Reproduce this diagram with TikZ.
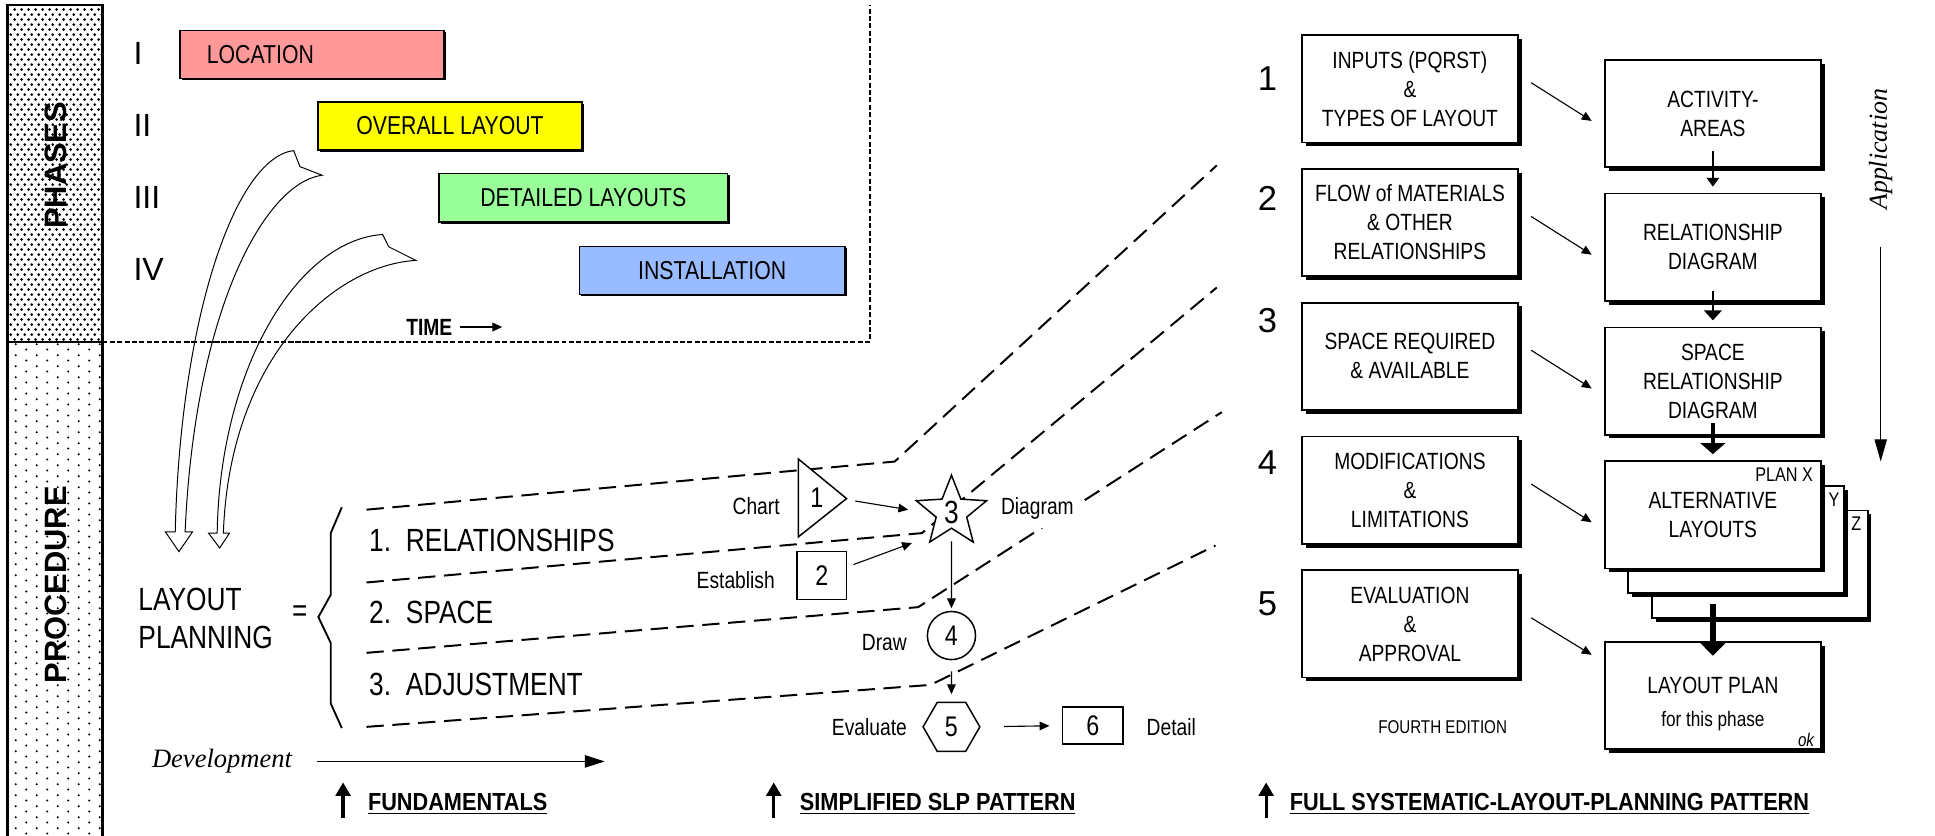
\documentclass[tikz,border=0pt]{standalone}
\usepackage{fontspec}
\setmainfont[FakeStretch=0.82]{Liberation Sans}
\newfontfamily\widefont{Liberation Sans}
\newfontfamily\headfont[FakeStretch=0.88]{Liberation Sans}
\newfontfamily\timesfont{Liberation Serif}
\usetikzlibrary{positioning}
\usetikzlibrary{arrows.meta}
\usetikzlibrary{shapes.geometric, shadows, patterns}

\newcommand{\fsz}[2]{\fontsize{#1}{#2}\selectfont}

\definecolor{locred}{RGB}{255,153,153}
\definecolor{ovyellow}{RGB}{255,255,0}
\definecolor{detgreen}{RGB}{153,255,153}
\definecolor{instblue}{RGB}{153,187,255}

\pgfdeclarepatternformonly{densedots}{\pgfpointorigin}{\pgfpoint{5.4pt}{8pt}}{\pgfpoint{5.4pt}{8pt}}{%
  \pgfpathcircle{\pgfpoint{1.35pt}{2pt}}{1.25pt}%
  \pgfpathcircle{\pgfpoint{4.05pt}{6pt}}{1.25pt}%
  \pgfusepath{fill}}
\pgfdeclarepatternformonly{sparsedots}{\pgfpointorigin}{\pgfpoint{17pt}{8.6pt}}{\pgfpoint{17pt}{8.6pt}}{%
  \pgfpathcircle{\pgfpoint{4.25pt}{2.15pt}}{0.95pt}%
  \pgfpathcircle{\pgfpoint{12.75pt}{6.45pt}}{0.95pt}%
  \pgfusepath{fill}}

\begin{document}
\begin{tikzpicture}[x=1pt, y=-1pt]
	\tikzstyle{bar} = [draw, line width=1.3pt, minimum height=39pt, inner sep=0pt, anchor=north west, font=\fsz{21}{24}, drop shadow={shadow xshift=1.5pt, shadow yshift=-1.5pt, opacity=1, fill=black}]
	\tikzstyle{box} = [draw, fill=white, line width=1.4pt, minimum width=175pt, minimum height=87pt, inner sep=0pt, align=center, font=\fsz{19}{23.5}, drop shadow={shadow xshift=3pt, shadow yshift=-3pt, opacity=1, fill=black}]
	\tikzstyle{shp} = [draw, fill=white, line width=1.2pt, inner sep=0pt, font=\fsz{23}{26}]
	\tikzstyle{lbl} = [inner sep=0pt, font=\fsz{19}{22}]
	\tikzstyle{big} = [inner sep=0pt, font=\fsz{26}{31}]
	\tikzstyle{numeral} = [inner sep=0pt, anchor=west, font=\widefont\fsz{26}{30}]
	\tikzstyle{heading} = [inner sep=0pt, anchor=base west, font=\headfont\bfseries\fsz{20}{24}]
	\tikzstyle{slp} = [draw, line width=1.6pt, dash pattern=on 14pt off 7pt]
	\tikzstyle{line} = [draw, line width=0.9pt, -{Triangle[length=8pt, width=7pt]}]
	\tikzstyle{uparrow} = [draw, line width=2.6pt, -{Triangle[length=11pt, width=12pt]}]

	\useasboundingbox (0,0) rectangle (1568,677);

	\pattern[pattern=densedots] (6,4) rectangle (83,277);
	\pattern[pattern=sparsedots] (6,277) rectangle (83,680);
	\draw[line width=1.8pt] (6,680) -- (6,4) -- (83,4) -- (83,680);
	\draw[line width=1.6pt] (6,277) -- (83,277);
	\node[rotate=90, inner sep=0pt, font=\widefont\bfseries\fsz{25}{28}] (phases) at (45,134) {PHASES};
	\node[rotate=90, inner sep=0pt, font=\widefont\bfseries\fsz{25}{28}] (procedure) at (45,474) {PROCEDURE};
	\draw[line width=1.2pt, dash pattern=on 4pt off 2pt] (83,277) -- (705,277) -- (705,4);

	\node[numeral] (ph1) at (108,43.5) {I};
	\node[numeral] (ph2) at (108,102) {II};
	\node[numeral] (ph3) at (108,160) {III};
	\node[numeral] (ph4) at (108,218.5) {IV};
	\node[bar, fill=locred, text width=170pt, align=left, inner xsep=22pt] (loc) at (145,24) {LOCATION};
	\node[bar, fill=ovyellow, minimum width=214pt] (overall) at (257,82) {OVERALL LAYOUT};
	\node[bar, fill=detgreen, minimum width=234pt] (detailed) at (355,140) {DETAILED LAYOUTS};
	\node[bar, fill=instblue, minimum width=215pt] (install) at (469,199) {INSTALLATION};
	\node[anchor=west, inner sep=0pt, font=\bfseries\fsz{19}{22}] (time) at (329,265) {TIME};
	\coordinate (timeend) at (407,265);
	\path[draw, line width=1.2pt, -{Triangle[length=8pt, width=7pt]}] ([xshift=6pt]time.east) -- (timeend);

	\draw[line width=0.8pt, fill=white] (238,122) -- (243,135) -- (261,142) .. controls (215,148) and (158,250) .. (150,431) -- (156,431) -- (145,447) -- (134,431) -- (142,431) .. controls (146,260) and (190,128) .. (238,122) -- cycle;
	\draw[line width=0.8pt, fill=white] (310,190) -- (315,200) -- (337,211) .. controls (270,215) and (186,290) .. (181,432) -- (186,432) -- (178,444) -- (169,432) -- (176,432) .. controls (178,300) and (240,195) .. (310,190) -- cycle;
	\draw[line width=1.2pt, dash pattern=on 4pt off 2pt] (150,277) -- (250,277);

	\node[big, anchor=west, align=left] (lp) at (112,501) {LAYOUT\\PLANNING};
	\node[big] (eq) at (243,497) {=};
	\draw[line width=1.5pt] (277,411) -- (268,432) -- (268,482) -- (258,500) -- (268,521) -- (268,570) -- (277,590);
	\node[big, anchor=west] (item1) at (299,438) {1.\hspace{12pt}RELATIONSHIPS};
	\node[big, anchor=west] (item2) at (299,496) {2.\hspace{12pt}SPACE};
	\node[big, anchor=west] (item3) at (299,555) {3.\hspace{12pt}ADJUSTMENT};
	\node[anchor=west, inner sep=0pt, font=\timesfont\itshape\fsz{21.5}{24}] (dev) at (123,617) {Development};
	\coordinate (devend) at (490,617);
	\path[draw, line width=1pt, -{Triangle[length=16pt, width=10pt]}] ([xshift=20pt]dev.east) -- (devend);

	\draw[slp] (297,413) -- (725,374) -- (986,134);
	\draw[slp] (297,472) -- (747,432) -- (986,233);
	\draw[slp] (297,529) -- (744,492) -- (990,334);
	\draw[slp] (297,589) -- (754,555) -- (985,442);

	\coordinate (t1tip) at (686,404);
	\draw[shp] (647,372) -- (t1tip) -- (647,435) -- cycle;
	\node[inner sep=0pt, font=\fsz{23}{26}] (n1) at (662,403) {1};
	\node[shp, rectangle, minimum width=40pt, minimum height=39pt] (b2) at (666,466.5) {2};
	\node[shp, star, star points=5, star point ratio=2.3, minimum size=59pt, font=\fsz{26}{28}] (s3) at (771,415) {3};
	\node[shp, circle, minimum size=39pt] (c4) at (771,515) {4};
	\node[shp, regular polygon, regular polygon sides=6, minimum size=46pt] (h5) at (771,589) {5};
	\node[shp, rectangle, minimum width=49pt, minimum height=30pt] (b6) at (885.5,588) {6};

	\node[lbl, anchor=base east] (chart) at (632,417) {Chart};
	\node[lbl, anchor=base east] (establish) at (628,477) {Establish};
	\node[lbl, anchor=base west, fill=white, inner xsep=4pt, inner ysep=5pt, text depth=6pt] (diagram) at (807,417) {Diagram\hspace{10pt}};
	\node[lbl, anchor=base east] (drawlbl) at (735,527) {Draw};
	\node[lbl, anchor=base east] (evaluate) at (735,596) {Evaluate};
	\node[lbl, anchor=base west] (detail) at (929,596) {Detail};

	\path[line] ([xshift=7pt, yshift=-2pt]t1tip) -- ([xshift=-35pt, yshift=2pt]s3.center);
	\path[line] ([xshift=5pt, yshift=9pt]b2.east) -- ([xshift=-32pt, yshift=-25pt]s3.center);
	\path[line, shorten <=10pt, shorten >=2pt] (s3.south) -- (c4.north);
	\path[line, shorten <=9pt, shorten >=6pt] (c4.south) -- (h5.north);
	\path[line, shorten <=19pt, shorten >=10pt] (h5.east) -- (b6.west);

	\node[font=\widefont\fsz{28}{32}, inner sep=0pt] (st1) at (1027,64) {1};
	\node[font=\widefont\fsz{28}{32}, inner sep=0pt] (st2) at (1027,161) {2};
	\node[font=\widefont\fsz{28}{32}, inner sep=0pt] (st3) at (1027,260) {3};
	\node[font=\widefont\fsz{28}{32}, inner sep=0pt] (st4) at (1027,375) {4};
	\node[font=\widefont\fsz{28}{32}, inner sep=0pt] (st5) at (1027,489) {5};

	\node[box] (in1) at (1142.5,72) {INPUTS (PQRST)\\\&\\TYPES OF LAYOUT};
	\node[box, below=20pt of in1] (in2) {FLOW of MATERIALS\\\& OTHER\\RELATIONSHIPS};
	\node[box, below=20pt of in2] (in3) {SPACE REQUIRED\\\& AVAILABLE};
	\node[box, below=20pt of in3] (in4) {MODIFICATIONS\\\&\\LIMITATIONS};
	\node[box, below=20pt of in4] (in5) {EVALUATION\\\&\\APPROVAL};

	\node[box] (areas) at (1388,92) {ACTIVITY-\\AREAS};
	\node[box, below=20pt of areas] (reldiag) {RELATIONSHIP\\DIAGRAM};
	\node[box, below=20pt of reldiag] (spacediag) {SPACE\\RELATIONSHIP\\DIAGRAM};
	\node[box, below=20pt of spacediag, xshift=38pt, yshift=-40pt] (planz) {};
	\node[box, below=20pt of spacediag, xshift=19pt, yshift=-20pt] (plany) {};
	\node[box, below=20pt of spacediag] (alt) {ALTERNATIVE\\LAYOUTS};
	\node[anchor=north east, inner sep=0pt, font=\fsz{16}{18}] (planx) at ([xshift=-7pt, yshift=-6pt]alt.north east) {PLAN X};
	\node[inner sep=0pt, font=\fsz{16}{18}] (ly) at ([xshift=-9pt, yshift=-12pt]plany.north east) {Y};
	\node[inner sep=0pt, font=\fsz{16}{18}] (lz) at ([xshift=-10pt, yshift=-11pt]planz.north east) {Z};
	\node[box, below=58pt of alt] (plan) {};
	\node[anchor=base, inner sep=0pt, font=\fsz{19}{22}] (plantitle) at ([yshift=1.5pt]plan.center) {LAYOUT PLAN};
	\node[anchor=base, inner sep=0pt, font=\fsz{17}{20}] (planphase) at ([yshift=-25.5pt]plan.center) {for this phase};
	\node[anchor=base east, inner sep=0pt, font=\itshape\fsz{15}{18}] (ok) at ([xshift=-6pt, yshift=3pt]plan.south east) {ok};

	\path[draw, line width=1pt, shorten >=5pt, -{Triangle[length=7pt, width=10pt]}] ([yshift=14pt]areas.south) -- (reldiag.north);
	\path[draw, line width=2pt, shorten >=5pt, -{Triangle[length=8pt, width=14pt]}] ([yshift=9pt]reldiag.south) -- (spacediag.north);
	\path[draw, line width=3pt, shorten >=5pt, -{Triangle[length=9pt, width=20pt]}] ([yshift=10pt]spacediag.south) -- (alt.north);
	\path[draw, line width=5pt, -{Triangle[length=11pt, width=21pt]}] ([yshift=-28pt]alt.south) -- ([yshift=-12pt]plan.north);

	\path[line] ([xshift=10pt, yshift=5pt]in1.east) -- ([xshift=-10pt, yshift=-6pt]areas.west);
	\path[line] ([xshift=10pt, yshift=5pt]in2.east) -- ([xshift=-10pt, yshift=-6pt]reldiag.west);
	\path[line] ([xshift=10pt, yshift=5pt]in3.east) -- ([xshift=-10pt, yshift=-6pt]spacediag.west);
	\path[line] ([xshift=10pt, yshift=5pt]in4.east) -- ([xshift=-10pt, yshift=-6pt]alt.west);
	\path[line] ([xshift=10pt, yshift=5pt]in5.east) -- ([xshift=-10pt, yshift=33pt]plan.west);

	\node[inner sep=0pt, font=\fsz{15}{18}] (edition) at (1169,589) {FOURTH EDITION};
	\node[rotate=90, inner sep=0pt, font=\timesfont\itshape\fsz{21}{24}] (appl) at (1524,121) {Application};
	\coordinate (appltop) at (1524,200);
	\coordinate (applend) at (1524,374);
	\path[draw, line width=0.9pt, -{Triangle[length=18pt, width=10pt]}] (appltop) -- (applend);

	\node[heading] (fund) at (298,657) {\underline{FUNDAMENTALS}};
	\node[heading] (simple) at (648,657) {\underline{SIMPLIFIED SLP PATTERN}};
	\node[heading] (full) at (1045,657) {\underline{FULL SYSTEMATIC-LAYOUT-PLANNING PATTERN}};
	\coordinate (fundtail) at (278,663);
	\coordinate (fundtip) at (278,634);
	\coordinate (simpletail) at (627,663);
	\coordinate (simpletip) at (627,634);
	\coordinate (fulltail) at (1026,663);
	\coordinate (fulltip) at (1026,634);
	\path[uparrow] (fundtail) -- (fundtip);
	\path[uparrow] (simpletail) -- (simpletip);
	\path[uparrow] (fulltail) -- (fulltip);
\end{tikzpicture}
\end{document}
